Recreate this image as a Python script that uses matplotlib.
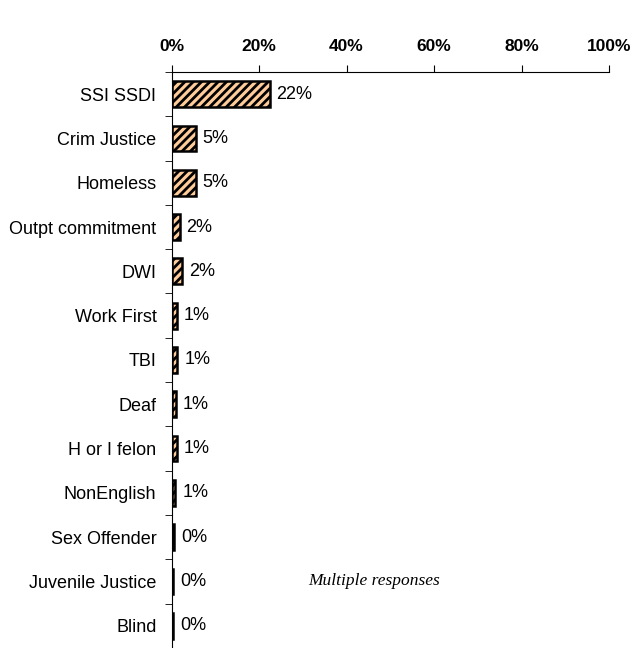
import matplotlib.pyplot as plt
from matplotlib.ticker import FuncFormatter

categorias = ['SSI SSDI', 'Crim Justice', 'Homeless', 'Outpt commitment', 'DWI',
              'Work First', 'TBI', 'Deaf', 'H or I felon', 'NonEnglish',
              'Sex Offender', 'Juvenile Justice', 'Blind']
valores = [22.4, 5.5, 5.5, 1.8, 2.3, 1.2, 1.3, 0.9, 1.2, 0.8, 0.5, 0.3, 0.4]
etiquetas = ['22%', '5%', '5%', '2%', '2%', '1%', '1%', '1%', '1%', '1%', '0%', '0%', '0%']

plt.rcParams['font.family'] = ['Liberation Sans', 'DejaVu Sans']
plt.rcParams['hatch.color'] = '#333333'
plt.rcParams['hatch.linewidth'] = 2.0

fig = plt.figure(figsize=(6.36, 6.48), dpi=100)
ax = fig.add_axes([0.27, 0.0, 0.6875, 0.889])

pos = list(range(len(categorias)))
barras = ax.barh(pos, valores, height=0.58, color='#FFCC99', edgecolor='black',
                 linewidth=1.8, hatch='////')

for p, v, e in zip(pos, valores, etiquetas):
    ax.annotate(e, (v, p), xytext=(5, 0), textcoords='offset points',
                va='center', ha='left', fontsize=13)

ax.set_xlim(0, 100)
ax.set_ylim(12.5, -0.5)
ax.set_xticks([0, 20, 40, 60, 80, 100])
ax.xaxis.set_major_formatter(FuncFormatter(lambda x, _: f'{x:.0f}%'))
ax.xaxis.tick_top()
for t in ax.get_xticklabels():
    t.set_fontweight('bold')
ax.tick_params(axis='x', labelsize=12.5, length=5, direction='out', pad=8)

ax.set_yticks(pos)
ax.set_yticklabels(categorias, fontsize=13)
ax.set_yticks([p + 0.5 for p in pos[:-1]] + [-0.5], minor=True)
ax.tick_params(axis='y', which='major', length=0, pad=11)
ax.tick_params(axis='y', which='minor', length=5, direction='out')

ax.spines['right'].set_visible(False)
ax.spines['bottom'].set_visible(False)

ax.text(0.462, 0.116, 'Multiple responses', transform=ax.transAxes,
        fontsize=12.5, style='italic', family='Liberation Serif',
        ha='center', va='center')

fig.savefig('out.png', dpi=100)
